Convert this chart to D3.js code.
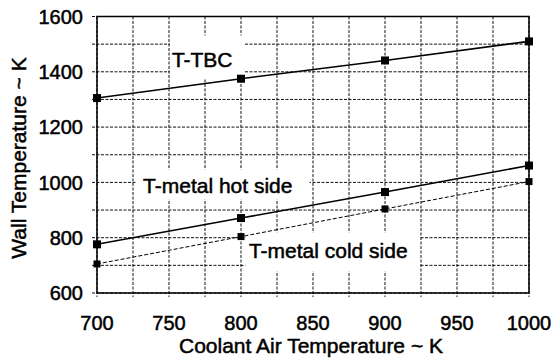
<!DOCTYPE html>
<html>
<head>
<meta charset="utf-8">
<script src="https://cdn.jsdelivr.net/npm/d3@7"></script>
<style>
	body { margin: 0; background: #fff; }
	text { font-family: "Liberation Sans", Arial, sans-serif; fill: #000; stroke: #000; stroke-width: 0.5; }
</style>
</head>
<body>
<div id="chart"></div>
<script>
// values
var coolantTemps = [700, 800, 900, 1000];
var tbcTemps = [1305, 1375, 1441, 1510];
var hotSideTemps = [776, 871, 965, 1061];
var coldSideTemps = [705, 804, 904, 1003];

var xTicks = [700, 750, 800, 850, 900, 950, 1000];
var yTicks = [600, 800, 1000, 1200, 1400, 1600];
var xGridStep = 25;
var yGridStep = 100;

var seriesNames = ["T-TBC", "T-metal hot side", "T-metal cold side"];

function WallTempPlot(parentId) {
	var margin = {top: 16.5, right: 23, bottom: 67, left: 97};
	var width = 552 - margin.left - margin.right;
	var height = 360 - margin.top - margin.bottom;

	this.svg = d3.select(parentId)
				.append("svg")
					.attr("width", 552)
					.attr("height", 360)
					.attr("viewBox", [0, 0, 552, 360]);

	var g = this.svg.append("g")
		.attr("transform", "translate(" + margin.left + "," + margin.top + ")");

	var x = d3.scaleLinear().domain([700, 1000]).range([0, width]);
	var y = d3.scaleLinear().domain([600, 1600]).range([height, 0]);

	// grid, dotted like the scan, running a little past the frame as tick marks
	g.selectAll(".vgrid")
		.data(d3.range(700, 1000 + 1, xGridStep))
		.join("line")
		.attr("class", "vgrid")
		.attr("x1", d => x(d)).attr("x2", d => x(d))
		.attr("y1", 0).attr("y2", height + 4)
		.attr("stroke", "#111")
		.attr("stroke-width", 1)
		.attr("stroke-dasharray", "3,1.5");

	g.selectAll(".hgrid")
		.data(d3.range(600, 1600 + 1, yGridStep))
		.join("line")
		.attr("class", "hgrid")
		.attr("x1", -5).attr("x2", width)
		.attr("y1", d => y(d)).attr("y2", d => y(d))
		.attr("stroke", "#111")
		.attr("stroke-width", 1)
		.attr("stroke-dasharray", "3,1.5");

	// frame
	g.append("rect")
		.attr("width", width)
		.attr("height", height)
		.attr("fill", "none")
		.attr("stroke", "#000")
		.attr("stroke-width", 1.5);

	// tick labels
	g.selectAll(".xtick")
		.data(xTicks)
		.join("text")
		.attr("class", "xtick")
		.attr("x", d => x(d))
		.attr("y", height + 37)
		.attr("text-anchor", "middle")
		.style("font-size", "20px")
		.text(d => d);

	g.selectAll(".ytick")
		.data(yTicks)
		.join("text")
		.attr("class", "ytick")
		.attr("x", -14)
		.attr("y", d => y(d))
		.attr("dy", "0.36em")
		.attr("text-anchor", "end")
		.style("font-size", "20px")
		.text(d => d);

	// axis titles
	this.svg.append("text")
		.attr("x", margin.left + width / 2 - 2)
		.attr("y", 353)
		.attr("text-anchor", "middle")
		.style("font-size", "21px")
		.text("Coolant Air Temperature ~ K");

	this.svg.append("text")
		.attr("transform", "translate(26," + 158 + ") rotate(-90)")
		.attr("text-anchor", "middle")
		.style("font-size", "21px")
		.text("Wall Temperature ~ K");

	// label boxes (white, they cut the grid) and texts
	var labels = [
		{text: seriesNames[0], x: x(752), y: 50.5, box: [x(750) + 1, 19, 75, 43]},
		{text: seriesNames[1], x: x(732), y: 176.5, box: [x(727.5), 153, 173, 30]},
		{text: seriesNames[2], x: x(805.5), y: 241.5, box: [x(803) , 216, 174, 39]}
	];

	g.selectAll(".lbox")
		.data(labels)
		.join("rect")
		.attr("class", "lbox")
		.attr("x", d => d.box[0])
		.attr("y", d => d.box[1])
		.attr("width", d => d.box[2])
		.attr("height", d => d.box[3])
		.attr("fill", "#fff");

	g.selectAll(".lbl")
		.data(labels)
		.join("text")
		.attr("class", "lbl")
		.attr("x", d => d.x)
		.attr("y", d => d.y)
		.style("font-size", "21px")
		.text(d => d.text);

	// series
	var series = [
		{vals: tbcTemps, dash: null, w: 1.6, size: 8},
		{vals: hotSideTemps, dash: null, w: 1.6, size: 8},
		{vals: coldSideTemps, dash: "4,2", w: 1, size: 7}
	];

	var line = d3.line()
		.x((d, i) => x(coolantTemps[i]))
		.y(d => y(d));

	series.forEach(function(s) {
		g.append("path")
			.datum(s.vals)
			.attr("d", line)
			.attr("fill", "none")
			.attr("stroke", "#000")
			.attr("stroke-width", s.w)
			.attr("stroke-dasharray", s.dash);

		g.selectAll(null)
			.data(s.vals)
			.join("rect")
			.attr("x", (d, i) => x(coolantTemps[i]) - s.size / 2)
			.attr("y", d => y(d) - s.size / 2)
			.attr("width", s.size)
			.attr("height", s.size)
			.attr("fill", "#000");
	});
}

new WallTempPlot("#chart");
</script>
</body>
</html>
